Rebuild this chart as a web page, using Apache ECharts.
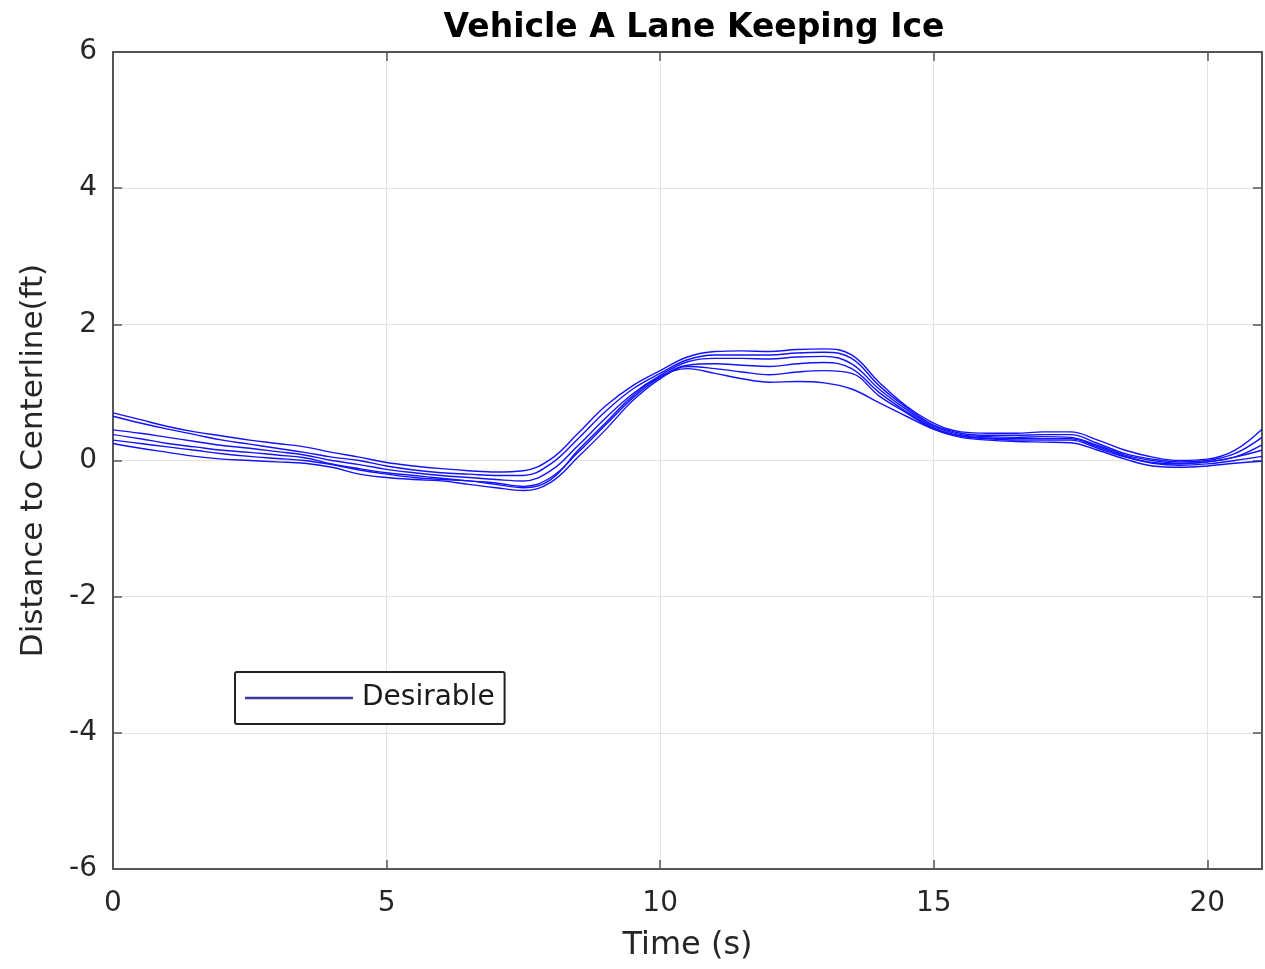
<!DOCTYPE html>
<html>
<head>
<meta charset="utf-8">
<script src="https://cdn.jsdelivr.net/npm/echarts@6/dist/echarts.min.js"></script>
<style>html,body{margin:0;padding:0;background:#fff;}#c{width:1265px;height:969px;}</style>
</head>
<body>
<div id="c"></div>
<script>
const times = [0,0.5,1,1.5,2,2.5,3,3.5,4,4.5,5,5.5,6,6.5,7,7.5,8,8.5,9,9.5,10,10.5,11,11.5,12,12.5,13,13.5,14,14.5,15,15.5,16,16.5,17,17.5,18,18.5,19,19.5,20,20.5,21];
const run1 = [0.70,0.60,0.50,0.42,0.36,0.30,0.25,0.20,0.12,0.05,-0.03,-0.08,-0.12,-0.15,-0.17,-0.15,0.02,0.40,0.80,1.10,1.32,1.52,1.60,1.61,1.60,1.63,1.64,1.55,1.15,0.80,0.55,0.42,0.40,0.40,0.42,0.42,0.30,0.15,0.05,0.00,0.02,0.15,0.46];
const run2 = [0.65,0.55,0.46,0.38,0.30,0.24,0.18,0.12,0.05,0.00,-0.08,-0.14,-0.18,-0.20,-0.22,-0.22,-0.05,0.32,0.72,1.05,1.28,1.48,1.55,1.55,1.55,1.58,1.59,1.50,1.10,0.78,0.52,0.40,0.37,0.37,0.38,0.38,0.25,0.10,0.02,-0.02,0.00,0.10,0.34];
const run3 = [0.45,0.40,0.34,0.28,0.22,0.18,0.13,0.08,0.00,-0.06,-0.13,-0.18,-0.22,-0.25,-0.28,-0.30,-0.15,0.22,0.62,0.98,1.25,1.45,1.50,1.50,1.49,1.52,1.53,1.42,1.05,0.75,0.50,0.38,0.35,0.34,0.35,0.34,0.22,0.08,0.00,-0.04,-0.02,0.05,0.23];
const run4 = [0.38,0.32,0.25,0.20,0.15,0.12,0.08,0.04,-0.05,-0.12,-0.18,-0.22,-0.26,-0.30,-0.33,-0.38,-0.25,0.12,0.52,0.92,1.22,1.40,1.42,1.40,1.38,1.42,1.44,1.35,1.00,0.72,0.48,0.36,0.32,0.30,0.30,0.30,0.18,0.05,-0.04,-0.07,-0.05,0.00,0.06];
const run5 = [0.25,0.18,0.12,0.06,0.02,0.00,-0.02,-0.04,-0.10,-0.20,-0.25,-0.28,-0.30,-0.35,-0.40,-0.44,-0.32,0.05,0.45,0.88,1.20,1.38,1.35,1.30,1.26,1.30,1.32,1.28,0.95,0.70,0.46,0.34,0.30,0.28,0.27,0.26,0.15,0.02,-0.08,-0.10,-0.08,-0.04,-0.01];
const run6 = [0.30,0.25,0.20,0.15,0.10,0.06,0.03,0.00,-0.06,-0.14,-0.20,-0.25,-0.28,-0.30,-0.35,-0.40,-0.28,0.15,0.55,0.95,1.23,1.35,1.28,1.20,1.15,1.16,1.14,1.05,0.85,0.65,0.46,0.36,0.33,0.32,0.32,0.32,0.20,0.06,-0.03,-0.05,-0.02,0.05,0.15];
const runs = [run1, run2, run3, run4, run5, run6];
const xTicks = [0,5,10,15,20];
const yTicks = [-6,-4,-2,0,2,4,6];
const seriesName = 'Desirable';

const chart = echarts.init(document.getElementById('c'));
const series = runs.map(r => ({
  name: seriesName,
  type: 'line',
  data: times.map((t, i) => [t, r[i]]),
  smooth: 0.4,
  showSymbol: false,
  symbol: 'none',
  lineStyle: { color: '#1212ff', width: 1.4 },
  itemStyle: { color: '#3a3a9e' },
  z: 3
}));
const font = 'DejaVu Sans, Arial, sans-serif';
const boxLine = { show: true, onZero: false, lineStyle: { color: '#555', width: 2 } };
const tick = { show: true, inside: true, length: 9, lineStyle: { color: '#555', width: 1.5 } };
chart.setOption({
  animation: false,
  backgroundColor: '#fff',
  title: {
    text: 'Vehicle A Lane Keeping Ice',
    left: 689, top: 7, textAlign: 'center',
    textStyle: { fontFamily: font, fontSize: 33, fontWeight: 'bold', color: '#000' }
  },
  legend: {
    data: [{ name: seriesName, icon: 'rect' }],
    left: 235, top: 672,
    itemWidth: 108, itemHeight: 2.5, itemGap: 6,
    padding: [12, 10, 12, 10],
    borderColor: '#222', borderWidth: 2, borderRadius: 2,
    backgroundColor: '#fff',
    textStyle: { fontFamily: font, fontSize: 28, color: '#1a1a1a', padding: [0, 0, 0, 4] }
  },
  grid: { left: 113, right: 2, top: 52, bottom: 100, show: false },
  xAxis: [{
    type: 'value', min: 0, max: 21, interval: 5,
    name: 'Time (s)', nameLocation: 'middle', nameGap: 61,
    nameTextStyle: { fontFamily: font, fontSize: 32, color: '#262626' },
    axisLine: boxLine, axisTick: tick,
    axisLabel: { fontFamily: font, fontSize: 28, color: '#262626', margin: 21,
      formatter: v => xTicks.includes(v) ? String(v) : '' },
    splitLine: { show: true, lineStyle: { color: '#e2e2e2', width: 1 } }
  }, {
    type: 'value', min: 0, max: 21, interval: 5, position: 'top',
    axisLine: boxLine, axisTick: tick,
    axisLabel: { show: false }, splitLine: { show: false }
  }],
  yAxis: [{
    type: 'value', min: -6, max: 6, interval: 2,
    name: 'Distance to Centerline(ft)', nameLocation: 'middle', nameGap: 64, nameRotate: 90,
    nameTextStyle: { fontFamily: font, fontSize: 31, color: '#262626' },
    axisLine: boxLine, axisTick: tick,
    axisLabel: { fontFamily: font, fontSize: 28, color: '#262626', margin: 16,
      formatter: v => yTicks.includes(v) ? String(v) : '' },
    splitLine: { show: true, lineStyle: { color: '#e2e2e2', width: 1 } }
  }, {
    type: 'value', min: -6, max: 6, interval: 2, position: 'right',
    axisLine: boxLine, axisTick: tick,
    axisLabel: { show: false }, splitLine: { show: false }
  }],
  series: series
});
</script>
</body>
</html>
